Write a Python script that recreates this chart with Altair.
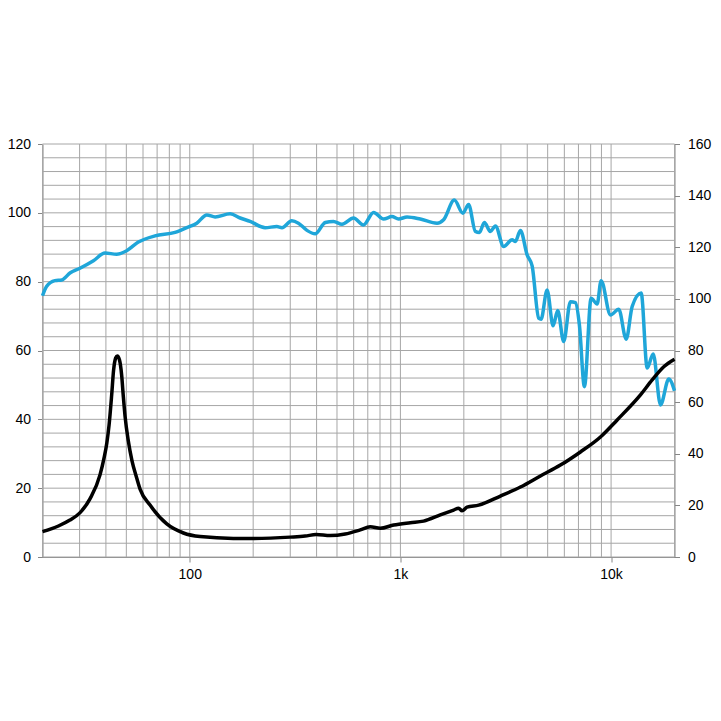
import altair as alt
import pandas as pd

# SPL curve (left axis, dB)
spl_freq = [20, 20.9, 22.9, 24.7, 27.0, 30.1, 34.9, 39.6, 45.0, 50.2, 57.0, 68.4, 85.2,
            96.8, 108, 120.5, 132, 155.5, 173.5, 193.5, 228, 259, 274, 305, 328, 360,
            394, 440, 481, 528, 599, 668, 746, 832, 912, 980, 1075, 1243, 1492, 1603,
            1803, 1978, 2108, 2268, 2370, 2504, 2673, 2824, 3092, 3389, 3513, 3711,
            3994, 4219, 4533, 4652, 4969, 5307, 5580, 5959, 6411, 6771, 7074, 7472,
            8040, 8584, 8970, 9934, 10875, 11795, 12592, 13894, 14838, 15845, 17165,
            18794, 20000]
spl_db = [75.9, 78.6, 80.3, 80.5, 82.5, 83.9, 86.1, 88.3, 88.0, 89.0, 91.5, 93.3, 94.3,
          95.7, 97.0, 99.4, 98.8, 99.7, 98.5, 97.5, 95.7, 96.0, 95.7, 97.7, 97.0, 94.9,
          93.9, 97.2, 97.5, 96.7, 98.5, 96.5, 100.1, 98.2, 98.9, 98.2, 98.8, 98.2, 97.0,
          98.0, 103.7, 99.9, 102.4, 94.6, 94.3, 97.2, 94.6, 96.2, 90.2, 92.2, 91.7, 94.9,
          87.8, 84.6, 69.4, 69.1, 77.6, 67.2, 71.6, 62.6, 74.2, 73.9, 67.4, 49.5,
          75.2, 73.5, 80.3, 70.3, 72.0, 63.3, 72.8, 76.7, 54.9, 59.0, 44.2,
          51.7, 48.3]

# Impedance curve (right axis, ohm)
imp_freq = [20, 23.8, 27.0, 30.0, 33.6, 37.5, 39.2, 40.4, 41.4, 42.6, 43.5, 44.5, 45.3,
            46.4, 47.5, 48.4, 49.3, 51.1, 53.2, 56.0, 58.1, 64.8, 77.8, 93.3, 112, 161,
            200, 300, 353, 398, 464, 547, 645, 719, 802, 929, 1114, 1288, 1546, 1789,
            1890, 1961, 2071, 2352, 2983, 3711, 4617, 5746, 7152, 8904, 10688, 13788,
            15670, 17790, 20000]
imp_ohm = [9.8, 12.0, 14.3, 17.0, 22.5, 31.8, 38.4, 44.2, 51.1, 62.8, 72.4, 77.1, 77.9,
           76.3, 70.5, 62.0, 54.6, 44.9, 37.2, 30.6, 26.3, 20.1, 12.8, 9.3, 7.9, 7.2,
           7.2, 7.7, 8.1, 8.7, 8.3, 8.9, 10.5, 11.7, 11.1, 12.4, 13.3, 13.9, 16.3, 18.2,
           18.9, 17.9, 19.3, 20.1, 23.6, 27.1, 31.4, 35.6, 40.7, 46.5, 53.1, 62.8,
           68.6, 73.7, 76.6]

# axes / grid values
x_tick_values = [100, 1000, 10000]
x_tick_labels = ["100", "1k", "10k"]
x_grid = [m * 10 ** e for e in range(1, 5) for m in range(1, 10) if 20 <= m * 10 ** e <= 20000]
left_ticks = list(range(0, 121, 20))
left_grid = list(range(0, 121, 4))
right_ticks = list(range(0, 161, 20))

spl = pd.DataFrame({"f": spl_freq, "v": spl_db})
imp = pd.DataFrame({"f": imp_freq, "v": imp_ohm})
xg = pd.DataFrame({"f": x_grid})
yg = pd.DataFrame({"v": left_grid})

label_expr = " : ".join(
    f"datum.value == {v} ? '{l}'" for v, l in zip(x_tick_values, x_tick_labels)
) + " : ''"

xscale = alt.Scale(type="log", domain=[20, 20000], nice=False)
lscale = alt.Scale(domain=[0, 120], nice=False)
rscale = alt.Scale(domain=[0, 160], nice=False)
grid_color = "#a6a6a6"
axis_color = "#868686"

x_axis = alt.Axis(values=x_tick_values, labelExpr=label_expr, title=None,
                  grid=False, tickSize=5, labelPadding=5, labelFlush=False)
l_axis = alt.Axis(values=left_ticks, orient="left", title=None, grid=False,
                  tickSize=5, labelPadding=7)
r_axis = alt.Axis(values=right_ticks, orient="right", title=None, grid=False,
                  tickSize=5, labelPadding=8)

vgrid = alt.Chart(xg).mark_rule(color=grid_color, strokeWidth=1).encode(
    x=alt.X("f:Q", scale=xscale, axis=x_axis)
)
hgrid = alt.Chart(yg).mark_rule(color=grid_color, strokeWidth=1).encode(
    y=alt.Y("v:Q", scale=lscale, axis=l_axis)
)
blue = alt.Chart(spl).mark_line(color="#1fa6d9", strokeWidth=3.5, interpolate="monotone").encode(
    x=alt.X("f:Q", scale=xscale, axis=x_axis),
    y=alt.Y("v:Q", scale=lscale, axis=l_axis),
)
black = alt.Chart(imp).mark_line(color="#000000", strokeWidth=3.5, interpolate="monotone").encode(
    x=alt.X("f:Q", scale=xscale, axis=x_axis),
    y=alt.Y("v:Q", scale=rscale, axis=r_axis),
)

left = alt.layer(vgrid, hgrid, blue)
chart = alt.layer(left, black).resolve_scale(y="independent").properties(
    width=632, height=413,
    autosize=alt.AutoSizeParams(type="none"),
    padding={"left": 34.5, "top": 136, "right": 38, "bottom": 40},
).configure_view(stroke=None).configure_axis(
    labelFont="Liberation Sans", labelFontSize=14, labelColor="#000000",
    domainColor=axis_color, tickColor=axis_color, domainWidth=1, tickWidth=1,
)

chart.save("out.html", embed_options={"renderer": "svg", "actions": False})
